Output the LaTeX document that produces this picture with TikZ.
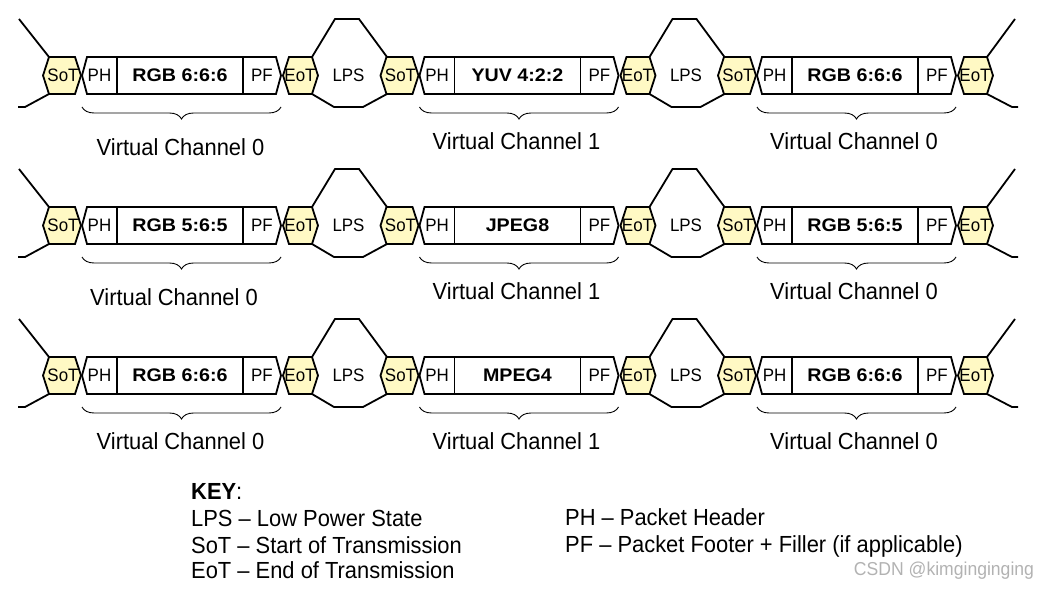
\documentclass[tikz,border=0pt]{standalone}
\usepackage{fontspec}
\setmainfont{Liberation Sans}[FakeStretch=0.94]
\newfontfamily\datafont{Liberation Sans}[FakeStretch=1.08]
\usetikzlibrary{decorations.pathreplacing}
\definecolor{hexfill}{RGB}{255,249,196}

\begin{document}
\begin{tikzpicture}
	[x=1pt, y=-1pt,
	wire/.style={line width=1.8pt, line join=miter},
	hexbox/.style={wire, fill=hexfill},
	boxlabel/.style={font=\fontsize{18}{20}\selectfont, inner sep=0pt},
	datalabel/.style={font=\datafont\bfseries\fontsize{18.2}{20}\selectfont, inner sep=0pt},
	vclabel/.style={font=\fontsize{23.3}{26}\selectfont, inner sep=0pt},
	keytext/.style={font=\fontsize{23.3}{26}\selectfont, anchor=base west, inner sep=0pt},
	vcbrace/.style={decorate, decoration={brace, amplitude=12pt}, line width=0.9pt}]
	\useasboundingbox (0,0) rectangle (1053,591);
	\foreach \r/\da/\db/\dc/\vx/\vy in {0/RGB 6:6:6/YUV 4:2:2/RGB 6:6:6/180.5/147.5,
		1/RGB 5:6:5/JPEG8/RGB 5:6:5/174/147,
		2/RGB 6:6:6/MPEG4/RGB 6:6:6/180.5/141} {
		\begin{scope}[shift={(0,150*\r)}]
			\draw[wire] (19,19) -- (49,57);
			\draw[wire] (18,107) -- (25,107) -- (49,94);
			\draw[wire] (987,57) -- (1015,19);
			\draw[wire] (987,94) -- (1012,107) -- (1018,107);
			\foreach \k/\dat in {0/\da, 1/\db, 2/\dc} {
				\begin{scope}[shift={(43+337.5*\k,0)}]
					\draw[hexbox] (0,75.5) -- (6,57) -- (32,57) -- (38,75.5) -- (32,94) -- (6,94) -- cycle;
					\draw[wire] (39,75.5) -- (44,57) -- (233,57) -- (238,75.5) -- (233,94) -- (44,94) -- cycle;
					\draw[wire] (74,57) -- (74,94) (200,57) -- (200,94);
					\draw[hexbox] (240,75.5) -- (246,57) -- (269,57) -- (275,75.5) -- (269,94) -- (246,94) -- cycle;
					\node[boxlabel] (sot\r\k) at (20,75.5) {SoT};
					\node[boxlabel] (ph\r\k) at (56.5,75.5) {PH};
					\node[datalabel] (dat\r\k) at (137,75.5) {\dat};
					\node[boxlabel] (pf\r\k) at (219,75.5) {PF};
					\node[boxlabel] (eot\r\k) at (257,75.5) {EoT};
					\draw[vcbrace] (238,107) -- (39,107);
					\ifnum\k<2
						\draw[wire] (269,57) -- (292,19) -- (316,19) -- (344,57);
						\draw[wire] (269,94) -- (291,107) -- (320,107) -- (344,94);
						\node[boxlabel] (lps\r\k) at (305.5,75.5) {LPS};
					\fi
				\end{scope}
			}
			\node[vclabel] (vc\r0) at (\vx,\vy) {Virtual Channel 0};
			\node[vclabel] (vc\r1) at (516.5,141) {Virtual Channel 1};
			\node[vclabel] (vc\r2) at (854,141) {Virtual Channel 0};
		\end{scope}
	}
	\node[keytext] (keyhead) at (191,499) {\textbf{KEY}:};
	\node[keytext] (keylps) at (191,526) {LPS -- Low Power State};
	\node[keytext] (keysot) at (191,553) {SoT -- Start of Transmission};
	\node[keytext] (keyeot) at (191,578) {EoT -- End of Transmission};
	\node[keytext] (keyph) at (565,525) {PH -- Packet Header};
	\node[keytext] (keypf) at (565,552) {PF -- Packet Footer + Filler (if applicable)};
	\node[font=\fontsize{18.7}{20}\selectfont, text=gray!60, inner sep=0pt] (mark) at (944,571) {CSDN @kimginginging};
\end{tikzpicture}
\end{document}
